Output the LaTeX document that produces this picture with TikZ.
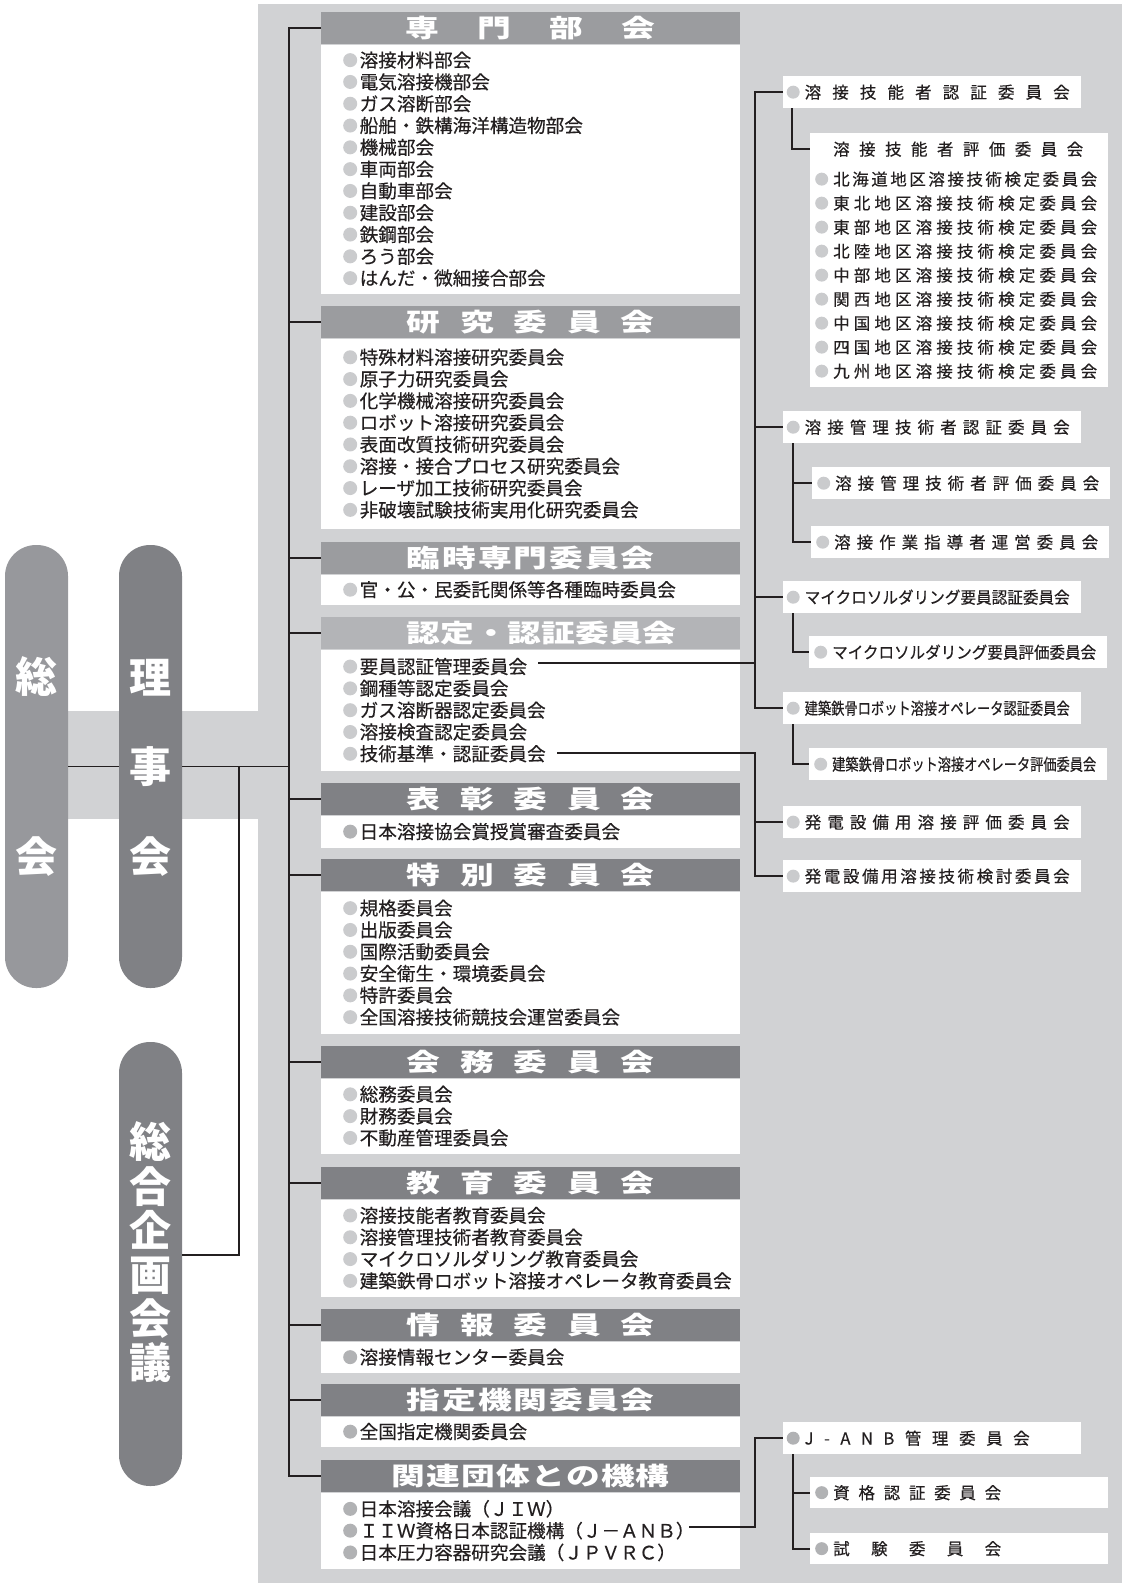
\documentclass[tikz,border=0pt]{standalone}
\usepackage{fontspec}
\usepackage{graphicx}
\setmainfont{Noto Sans CJK JP}
\newfontfamily\hdfont{Noto Sans CJK JP}[FakeStretch=1.35]
\newfontfamily\bdfont{Noto Sans CJK JP}[FakeBold=0.4]
\definecolor{panel}{HTML}{D1D2D4}
\definecolor{pillA}{HTML}{97989C}
\definecolor{pillB}{HTML}{808185}
\definecolor{hA}{HTML}{9B9C9F}
\definecolor{hB}{HTML}{B3B4B7}
\definecolor{hC}{HTML}{808185}
\definecolor{bulA}{HTML}{CACBCD}
\definecolor{bulB}{HTML}{B1B2B4}
\definecolor{ink}{HTML}{231F20}
\makeatletter
\newcommand\spreadtext[2]{\makebox[#1][s]{\def\sp@sep{}\@tfor\sp@c:=#2\do{\sp@sep\sp@c\def\sp@sep{\hfill}}}}
\newsavebox\fitbox
\newcommand\fit[2]{\sbox\fitbox{#2}\ifdim\wd\fitbox>#1\relax\resizebox{#1}{\height}{#2}\else\spreadtext{#1}{#2}\fi}
\makeatother
\newcommand\lb[1][bulA]{\tikz[baseline=-7pt]\fill[#1](0,0)circle(7pt);\hspace{2.5pt}}
\newcommand\rb[1][bulA]{\tikz[baseline=-6.3pt]\fill[#1](0,0)circle(6.5pt);\hspace{5pt}}
\tikzset{
  conn/.style={line width=2pt, draw=ink},
  conn2/.style={line width=1.5pt, draw=ink},
  hdr/.style={anchor=north west, minimum width=419pt, minimum height=32pt, inner sep=0pt, text=white, font=\hdfont\bfseries\fontsize{25}{25}\selectfont},
  body/.style={anchor=north west, fill=white, inner xsep=22pt, inner ysep=0pt, text width=375pt, align=left, text=ink, font=\bdfont\fontsize{18.6}{21.8}\selectfont},
  pill/.style={rounded corners=31pt, minimum width=63pt, minimum height=443pt, inner sep=0pt},
  pilltxt/.style={text=white, align=center, inner sep=0pt, font=\bfseries\fontsize{42}{#1}\selectfont},
  rbox/.style={anchor=north west, fill=white, minimum height=32pt, inner ysep=0pt, align=left, text=ink, font=\bdfont\fontsize{16.5}{24}\selectfont},
  r1/.style={rbox, inner xsep=3.5pt, text width=291pt},
  r2/.style={rbox, inner xsep=5pt, text width=288pt}
}
\begin{document}
\begin{tikzpicture}[x=1pt,y=-1pt]
\useasboundingbox (0,0) rectangle (1122,1583);
% background
\fill[panel] (258,4) rectangle (1122,1583);
\fill[panel] (40,711) rectangle (258,819);
% pills
\node[pill, fill=pillA] (sokai) at (36.5,766.5) {};
\node[pill, fill=pillB] (riji) at (150.5,766.5) {};
\node[pill, fill=pillB, minimum height=444pt] (sogo) at (150.5,1264) {};
\node[pilltxt=180pt] (sokaiT) at (36.5,767) {総\\会};
\node[pilltxt=89.5pt] (rijiT) at (150.5,767.5) {理\\事\\会};
\node[pilltxt=44.2pt] (sogoT) at (150.5,1252.5) {総\\合\\企\\画\\会\\議};
% left boxes
\node[hdr, fill=hA] (h1) at (321,12) {\spreadtext{250pt}{専門部会}};
\node[body, minimum height=249pt] (b1) at (h1.south west) {\lb 溶接材料部会\\\lb 電気溶接機部会\\\lb ガス溶断部会\\\lb 船舶・鉄構海洋構造物部会\\\lb 機械部会\\\lb 車両部会\\\lb 自動車部会\\\lb 建設部会\\\lb 鉄鋼部会\\\lb ろう部会\\\lb はんだ・微細接合部会};
\node[hdr, fill=hA] (h2) at (321,306) {\spreadtext{248pt}{研究委員会}};
\node[body, minimum height=190pt] (b2) at (h2.south west) {\lb 特殊材料溶接研究委員会\\\lb 原子力研究委員会\\\lb 化学機械溶接研究委員会\\\lb ロボット溶接研究委員会\\\lb 表面改質技術研究委員会\\\lb 溶接・接合プロセス研究委員会\\\lb レーザ加工技術研究委員会\\\lb 非破壊試験技術実用化研究委員会};
\node[hdr, fill=hA] (h3) at (321,542) {\spreadtext{248pt}{臨時専門委員会}};
\node[body, minimum height=30pt] (b3) at (h3.south west) {\lb 官・公・民委託関係等各種臨時委員会};
\node[hdr, fill=hB] (h4) at (321,617) {\spreadtext{248pt}{認定・認証委員会}};
\node[body, minimum height=121pt] (b4) at (h4.south west) {\lb 要員認証管理委員会\\\lb 鋼種等認定委員会\\\lb ガス溶断器認定委員会\\\lb 溶接検査認定委員会\\\lb 技術基準・認証委員会};
\node[hdr, fill=hC] (h5) at (321,783) {\spreadtext{248pt}{表彰委員会}};
\node[body, minimum height=32pt] (b5) at (h5.south west) {\lb[bulB]日本溶接協会賞授賞審査委員会};
\node[hdr, fill=hC] (h6) at (321,859) {\spreadtext{248pt}{特別委員会}};
\node[body, minimum height=142pt] (b6) at (h6.south west) {\lb 規格委員会\\\lb 出版委員会\\\lb 国際活動委員会\\\lb 安全衛生・環境委員会\\\lb 特許委員会\\\lb 全国溶接技術競技会運営委員会};
\node[hdr, fill=hC] (h7) at (321,1046) {\spreadtext{248pt}{会務委員会}};
\node[body, minimum height=75pt] (b7) at (h7.south west) {\lb 総務委員会\\\lb 財務委員会\\\lb 不動産管理委員会};
\node[hdr, fill=hC] (h8) at (321,1167) {\spreadtext{248pt}{教育委員会}};
\node[body, minimum height=97pt] (b8) at (h8.south west) {\lb 溶接技能者教育委員会\\\lb 溶接管理技術者教育委員会\\\lb マイクロソルダリング教育委員会\\\lb 建築鉄骨ロボット溶接オペレータ教育委員会};
\node[hdr, fill=hC] (h9) at (321,1309) {\spreadtext{248pt}{情報委員会}};
\node[body, minimum height=31pt] (b9) at (h9.south west) {\lb[bulB]溶接情報センター委員会};
\node[hdr, fill=hC] (h10) at (321,1384) {\spreadtext{248pt}{指定機関委員会}};
\node[body, minimum height=30pt] (b10) at (h10.south west) {\lb[bulB]全国指定機関委員会};
\node[hdr, fill=hC] (h11) at (321,1460) {\spreadtext{278pt}{関連団体との機構}};
\node[body, minimum height=76pt] (b11) at (h11.south west) {\lb[bulB]日本溶接会議（ＪＩＷ）\\\lb[bulB]ＩＩＷ資格日本認証機構（Ｊ－ＡＮＢ）\\\lb[bulB]日本圧力容器研究会議（ＪＰＶＲＣ）};
% right boxes
\node[r1] (ginou) at (783,76) {\rb\fit{265pt}{溶接技能者認証委員会}};
\node[r2, minimum height=254pt] (hyoka) at (810,133) {\hspace*{18pt}\fit{250pt}{溶接技能者評価委員会}\\[6pt]
 \rb\fit{264pt}{北海道地区溶接技術検定委員会}\\
 \rb\fit{264pt}{東北地区溶接技術検定委員会}\\
 \rb\fit{264pt}{東部地区溶接技術検定委員会}\\
 \rb\fit{264pt}{北陸地区溶接技術検定委員会}\\
 \rb\fit{264pt}{中部地区溶接技術検定委員会}\\
 \rb\fit{264pt}{関西地区溶接技術検定委員会}\\
 \rb\fit{264pt}{中国地区溶接技術検定委員会}\\
 \rb\fit{264pt}{四国地区溶接技術検定委員会}\\
 \rb\fit{264pt}{九州地区溶接技術検定委員会}};
\node[r1] (kanri) at (783,411) {\rb\fit{265pt}{溶接管理技術者認証委員会}};
\node[r2] (kanriA) at (812,467) {\rb\fit{264pt}{溶接管理技術者評価委員会}};
\node[r2] (kanriB) at (811,526) {\rb\fit{264pt}{溶接作業指導者運営委員会}};
\node[r1] (micro) at (783,581) {\rb\fit{265pt}{マイクロソルダリング要員認証委員会}};
\node[r2] (microB) at (809,636) {\rb\fit{264pt}{マイクロソルダリング要員評価委員会}};
\node[r1] (kentetsu) at (783,692) {\rb\fit{265pt}{建築鉄骨ロボット溶接オペレータ認証委員会}};
\node[r2] (kentetsuB) at (809,748) {\rb\fit{264pt}{建築鉄骨ロボット溶接オペレータ評価委員会}};
\node[r1] (hatsuA) at (783,806) {\rb\fit{265pt}{発電設備用溶接評価委員会}};
\node[r1] (hatsuB) at (783,860) {\rb\fit{265pt}{発電設備用溶接技術検討委員会}};
\node[r1] (janb) at (783,1422) {\rb[bulB]\fit{225pt}{J-ANB管理委員会}};
\node[r2, minimum height=31pt] (shikaku) at (810,1477) {\rb[bulB]\fit{168pt}{資格認証委員会}};
\node[r2, minimum height=31pt] (shiken) at (810,1533) {\rb[bulB]\fit{168pt}{試験委員会}};
% coordinates
\coordinate (spine) at (289,0);
\coordinate (rsp) at (755,0);
\coordinate (jx) at (239,0);
\coordinate (yoin) at (538,663);
\coordinate (kijun) at (557,753);
\coordinate (iiw) at (689,1527);
% left connectors
\draw[conn] (h1.west) -- (h1.west -| spine) -- (h11.west -| spine) -- (h11.west);
\foreach \n in {h2,h3,h4,h5,h6,h7,h8,h9,h10} \draw[conn] (\n.west) -- (\n.west -| spine);
\draw[conn2] (sokai.east) -- (riji.west);
\draw[conn2] (riji.east) -- (riji.east -| spine);
\draw[conn2] (riji.east -| jx) |- ([yshift=9pt]sogo.east);
% right connectors
\draw[conn] (ginou.west) -- (ginou.west -| rsp) -- (kentetsu.west -| rsp) -- (kentetsu.west);
\draw[conn] (kanri.west) -- (kanri.west -| rsp);
\draw[conn] (micro.west) -- (micro.west -| rsp);
\draw[conn] (yoin) -- (yoin -| rsp);
\draw[conn] (kijun) -- (kijun -| rsp) |- (hatsuB.west);
\draw[conn] (hatsuA.west) -- (hatsuA.west -| rsp);
\draw[conn] (iiw) -- (iiw -| rsp) |- (janb.west);
\draw[conn] ([xshift=9pt]ginou.south west) |- ([yshift=-16pt]hyoka.north west);
\draw[conn] ([xshift=10pt]kanri.south west) |- (kanriA.west);
\draw[conn] ([xshift=10pt]kanri.south west) |- (kanriB.west);
\draw[conn] ([xshift=10pt]micro.south west) |- (microB.west);
\draw[conn] ([xshift=10pt]kentetsu.south west) |- (kentetsuB.west);
\draw[conn] ([xshift=10pt]janb.south west) |- (shikaku.west);
\draw[conn] ([xshift=10pt]janb.south west) |- (shiken.west);
\end{tikzpicture}
\end{document}
